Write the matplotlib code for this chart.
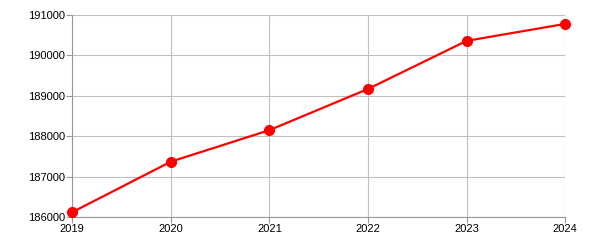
import matplotlib
matplotlib.use('Agg')
import matplotlib.pyplot as plt

years = [2019, 2020, 2021, 2022, 2023, 2024]
population = [186120, 187370, 188150, 189170, 190360, 190780]
y_ticks = [186000, 187000, 188000, 189000, 190000, 191000]

plt.rcParams['font.family'] = ['Liberation Sans', 'DejaVu Sans']

fig = plt.figure(figsize=(6, 2.5), dpi=100)
ax = fig.add_axes([0.1205, 0.132, 0.8215, 0.808])

ax.plot(years, population, color='#ff0000', linewidth=1.6,
        marker='o', markersize=7, clip_on=False, zorder=3)

ax.set_xlim(years[0], years[-1])
ax.set_ylim(y_ticks[0], y_ticks[-1])
ax.set_xticks(years)
ax.set_yticks(y_ticks)
ax.set_xticklabels([str(y) for y in years])
ax.set_yticklabels([str(v) for v in y_ticks])

ax.grid(True, color='#c0c0c0', linewidth=0.8)
ax.set_axisbelow(True)
for side in ['top', 'right']:
    ax.spines[side].set_visible(False)
for side in ['left', 'bottom']:
    ax.spines[side].set_color('#999999')
    ax.spines[side].set_linewidth(0.8)
ax.tick_params(axis='both', colors='#999999', labelcolor='black',
               labelsize=8, length=4, width=0.8, pad=1)

fig.savefig('out.png', dpi=100)
